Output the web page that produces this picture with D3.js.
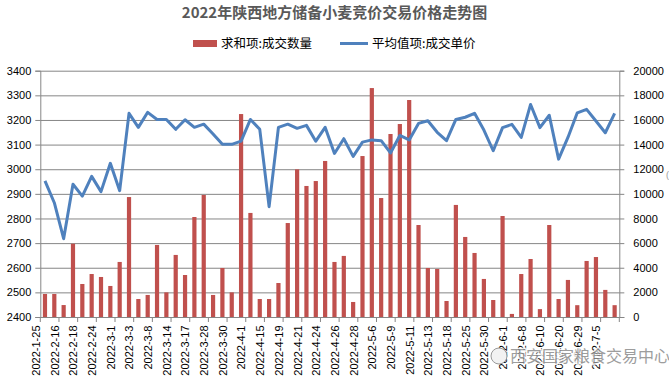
<!DOCTYPE html>
<html><head><meta charset="utf-8">
<script src="https://cdn.jsdelivr.net/npm/d3@7"></script>
<style>
html,body{margin:0;padding:0;background:#fff;}
svg{display:block;font-family:"Liberation Sans",Arial,sans-serif;}
</style></head>
<body><svg id="c" width="669" height="388"></svg>
<script>
const title = "2022年陕西地方储备小麦竞价交易价格走势图";
const barName = "求和项:成交数量";
const lineName = "平均值项:成交单价";
const categories = ["2022-1-25","2022-1-26","2022-2-16","2022-2-17","2022-2-18","2022-2-22","2022-2-24","2022-2-25","2022-3-1","2022-3-2","2022-3-3","2022-3-4","2022-3-8","2022-3-10","2022-3-14","2022-3-16","2022-3-17","2022-3-24","2022-3-28","2022-3-29","2022-3-30","2022-3-31","2022-4-1","2022-4-14","2022-4-15","2022-4-18","2022-4-19","2022-4-20","2022-4-21","2022-4-22","2022-4-24","2022-4-25","2022-4-26","2022-4-27","2022-4-28","2022-4-29","2022-5-6","2022-5-7","2022-5-9","2022-5-10","2022-5-11","2022-5-12","2022-5-13","2022-5-17","2022-5-18","2022-5-24","2022-5-25","2022-5-27","2022-5-30","2022-5-31","2022-6-1","2022-6-7","2022-6-8","2022-6-9","2022-6-10","2022-6-17","2022-6-20","2022-6-28","2022-6-29","2022-7-1","2022-7-5","2022-7-6"];
const quantity = [1870,1870,970,5950,2680,3490,3250,2520,4470,9740,1460,1790,5850,2000,5040,3410,8120,9910,1790,3980,2000,16480,8450,1460,1460,2760,7630,11990,10640,11040,12670,4470,4960,1220,13070,18590,9660,14860,15670,17620,7470,3980,3900,1300,9100,6500,5200,3090,1380,8200,250,3490,4710,640,7470,1460,3010,960,4550,4870,2200,960];
const price = [2953,2864,2718,2939,2891,2971,2909,3024,2913,3227,3170,3231,3202,3202,3162,3201,3170,3183,3143,3101,3101,3114,3202,3162,2848,3170,3183,3166,3178,3114,3170,3064,3124,3052,3110,3119,3116,3066,3137,3119,3186,3197,3150,3116,3202,3211,3227,3159,3075,3169,3182,3129,3263,3169,3219,3041,3129,3229,3243,3196,3148,3227];
const leftTicks = [2400,2500,2600,2700,2800,2900,3000,3100,3200,3300,3400];
const rightTicks = [0,2000,4000,6000,8000,10000,12000,14000,16000,18000,20000];

const svg = d3.select("#c");
const L = 40.3, R = 619.3, T = 70.7, B = 317;
const x = d3.scaleBand().domain(categories).range([L, R]).padding(0);
const yL = d3.scaleLinear().domain([2400, 3400]).range([B, T]);
const yR = d3.scaleLinear().domain([0, 20000]).range([B, T]);
const grid = "#868686";

// gridlines
svg.append("g").attr("transform", `translate(${L},0)`)
  .call(d3.axisLeft(yL).tickValues(leftTicks).tickSize(-(R - L)).tickFormat(""))
  .call(g => g.select(".domain").remove())
  .call(g => g.selectAll("line").attr("stroke", grid).attr("stroke-width", 1));

// bars
const bw = 4.2;
svg.append("g").selectAll("rect").data(quantity).join("rect")
  .attr("x", (d, i) => x(categories[i]) + x.bandwidth() / 2 - bw / 2)
  .attr("width", bw)
  .attr("y", d => yR(d))
  .attr("height", d => B - yR(d))
  .attr("fill", "#C0504D");

// line
const line = d3.line().x((d, i) => x(categories[i]) + x.bandwidth() / 2).y(d => yL(d));
svg.append("path").datum(price).attr("d", line)
  .attr("fill", "none").attr("stroke", "#4F81BD").attr("stroke-width", 3).attr("stroke-linejoin", "round");

// left axis
svg.append("g").attr("transform", `translate(${L},0)`)
  .call(d3.axisLeft(yL).tickValues(leftTicks).tickSize(5).tickPadding(4).tickFormat(d3.format("d")))
  .call(g => g.select(".domain").attr("stroke", grid))
  .call(g => g.selectAll("line").attr("stroke", grid))
  .call(g => g.selectAll("text").attr("font-size", 11).attr("fill", "#000").attr("font-family", "Liberation Sans, Arial, sans-serif"));

// right axis
svg.append("g").attr("transform", `translate(${R},0)`)
  .call(d3.axisRight(yR).tickValues(rightTicks).tickSize(5).tickPadding(9).tickFormat(d3.format("d")))
  .call(g => g.select(".domain").attr("stroke", grid))
  .call(g => g.selectAll("line").attr("stroke", grid))
  .call(g => g.selectAll("text").attr("font-size", 11).attr("fill", "#000").attr("font-family", "Liberation Sans, Arial, sans-serif"));

// bottom axis
const bx = svg.append("g").attr("transform", `translate(0,${B})`)
  .call(d3.axisBottom(x).tickValues(categories.filter((d, i) => i % 2 === 0)).tickSize(0).tickPadding(6))
  .call(g => g.select(".domain").attr("stroke", grid));
bx.selectAll("text")
  .attr("font-size", 11).attr("fill", "#000").attr("font-family", "Liberation Sans, Arial, sans-serif")
  .attr("transform", "rotate(-90)")
  .attr("text-anchor", "end").attr("dx", "-0.5em").attr("dy", "-0.45em").attr("y", 0).attr("x", -3);
// x tick marks at category boundaries (every 2)
svg.append("g").selectAll("line").data(categories.filter((d, i) => i % 2 === 0).concat([null]))
  .join("line")
  .attr("x1", d => d === null ? R : x(d)).attr("x2", d => d === null ? R : x(d))
  .attr("y1", B).attr("y2", B + 5).attr("stroke", grid);

// title
svg.append("text").attr("x", 334.5).attr("y", 18).attr("text-anchor", "middle")
  .attr("font-family", "Noto Sans CJK SC, sans-serif").attr("font-weight", "bold")
  .attr("font-size", 15).attr("fill", "#595959").text(title);

// legend
const lg = svg.append("g");
lg.append("rect").attr("x", 193).attr("y", 40).attr("width", 24).attr("height", 7).attr("fill", "#C0504D");
lg.append("text").attr("x", 221).attr("y", 48).attr("font-family", "Noto Sans CJK SC, sans-serif")
  .attr("font-size", 12.5).attr("fill", "#000").text(barName);
lg.append("line").attr("x1", 340).attr("x2", 368).attr("y1", 43.5).attr("y2", 43.5)
  .attr("stroke", "#4F81BD").attr("stroke-width", 3);
lg.append("text").attr("x", 372).attr("y", 48).attr("font-family", "Noto Sans CJK SC, sans-serif")
  .attr("font-size", 12.5).attr("fill", "#000").text(lineName);

// cut-off right axis title fragment
svg.append("text").attr("x", 666).attr("y", 178).attr("font-size", 9).attr("fill", "#999").text("(");

// watermark
const wm = svg.append("g");
wm.append("circle").attr("cx", 499).attr("cy", 356).attr("r", 8).attr("fill", "#f2f2f2").attr("stroke", "#999");
wm.append("text").attr("x", 510).attr("y", 362).attr("font-family", "Noto Sans CJK SC, sans-serif")
  .attr("font-size", 16).attr("fill", "#8c8c8c").attr("stroke", "#fff").attr("stroke-width", 2.5)
  .attr("paint-order", "stroke").attr("opacity", 0.85)
  .text("西安国家粮食交易中心");
</script></body></html>
